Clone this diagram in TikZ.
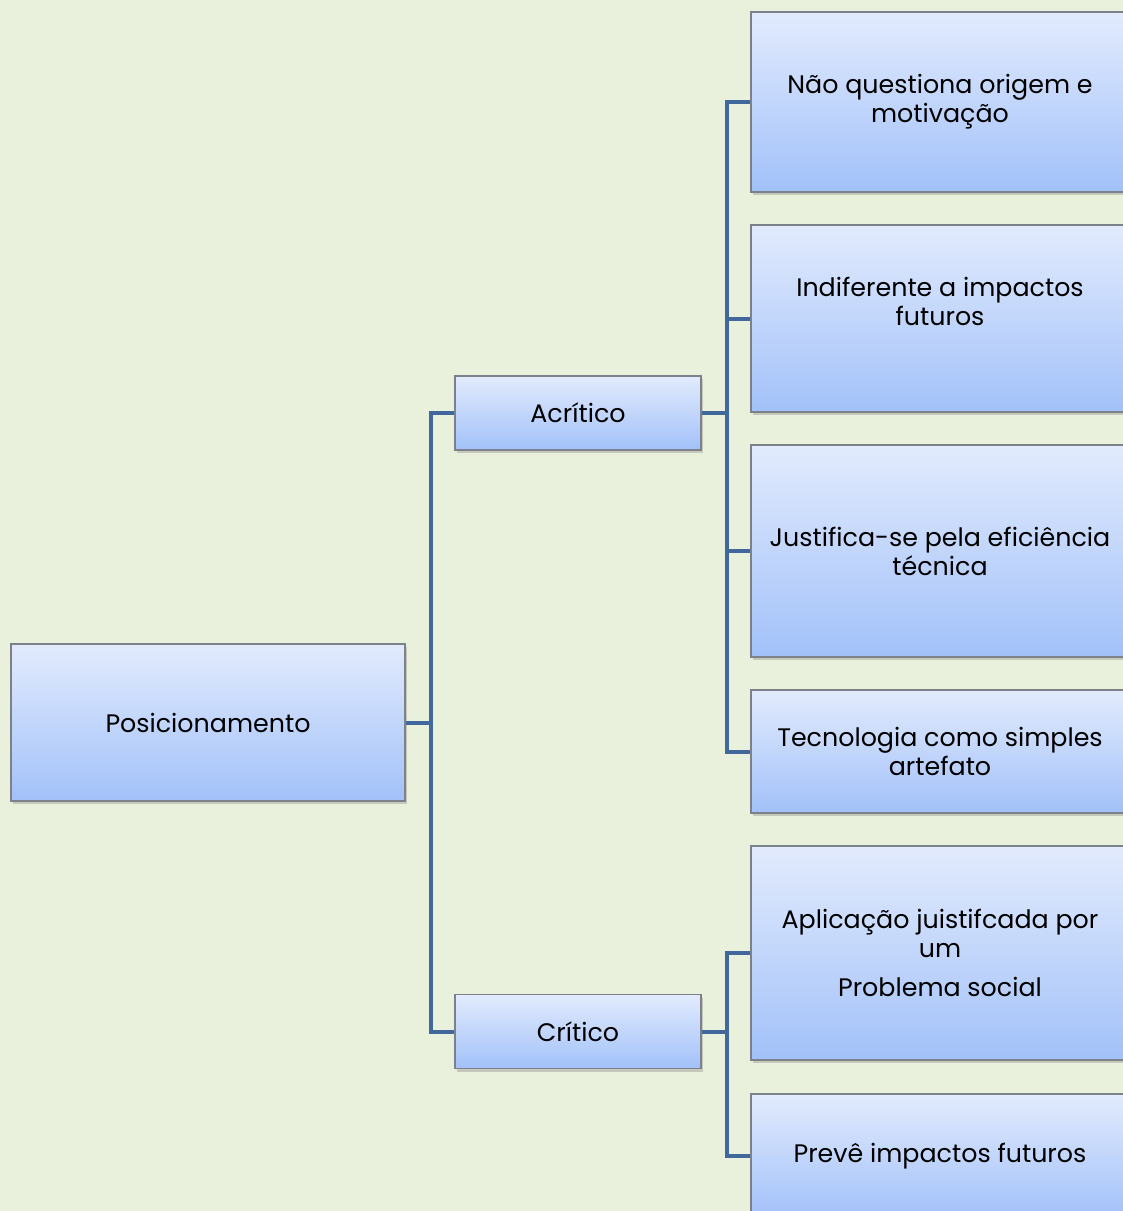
\documentclass[tikz,border=0pt]{standalone}
\usepackage{fontspec}
\setmainfont{Poppins}
\usetikzlibrary{shadows}
\definecolor{bg}{RGB}{233,241,221}
\definecolor{boxtop}{RGB}{226,235,253}
\definecolor{boxbot}{RGB}{162,193,249}
\definecolor{wirecol}{RGB}{65,104,156}
\definecolor{rim}{RGB}{125,130,138}

\begin{document}
\begin{tikzpicture}[x=0.75pt,y=-0.75pt,
    box/.style={draw=rim,line width=0.8pt,top color=boxtop,bottom color=boxbot,
      align=center,inner sep=0pt,font=\fontsize{19}{21.75}\selectfont,
      drop shadow={opacity=0.35,shadow xshift=1.5pt,shadow yshift=-2.5pt}},
    wire/.style={draw=wirecol,line width=3pt}]
    \clip (0,0) rectangle (1123,1211);
    \fill[bg] (0,0) rectangle (1123,1211);

    \node[box,minimum width=295.5pt,minimum height=117.75pt] (pos) at (208,722.5) {Posicionamento};
    \node[box,minimum width=184.5pt,minimum height=55.5pt] (acr) at (578,413) {Acrítico};
    \node[box,minimum width=184.5pt,minimum height=55.5pt] (cri) at (578,1031.5) {Crítico};

    \node[box,minimum width=283.5pt,minimum height=135pt] (n1) at (940,102) {Não questiona origem e\\ motivação};
    \node[box,minimum width=283.5pt,minimum height=140.25pt,text depth=26pt] (n2) at (940,318.5) {Indiferente a impactos\\ futuros};
    \node[box,minimum width=283.5pt,minimum height=159pt] (n3) at (940,551) {Justifica-se pela eficiência\\ técnica};
    \node[box,minimum width=283.5pt,minimum height=92.25pt] (n4) at (940,751.5) {Tecnologia como simples\\ artefato};
    \node[box,minimum width=283.5pt,minimum height=160.5pt] (n5) at (940,953) {Aplicação juistifcada por\\ um\\[7.5pt] Problema social};
    \node[box,minimum width=283.5pt,minimum height=93pt] (n6) at (940,1156) {Prevê impactos futuros};

    % ligacoes
    \draw[wire] (pos.east) -- ++(25,0) coordinate (t0);
    \draw[wire] (t0) |- (acr.west);
    \draw[wire] (t0) |- (cri.west);

    \draw[wire] (acr.east) -- ++(25,0) coordinate (t1);
    \foreach \n in {n1,n2,n3,n4}
        \draw[wire] (t1) |- (\n.west);

    \draw[wire] (cri.east) -- ++(25,0) coordinate (t2);
    \foreach \n in {n5,n6}
        \draw[wire] (t2) |- (\n.west);
\end{tikzpicture}
\end{document}
